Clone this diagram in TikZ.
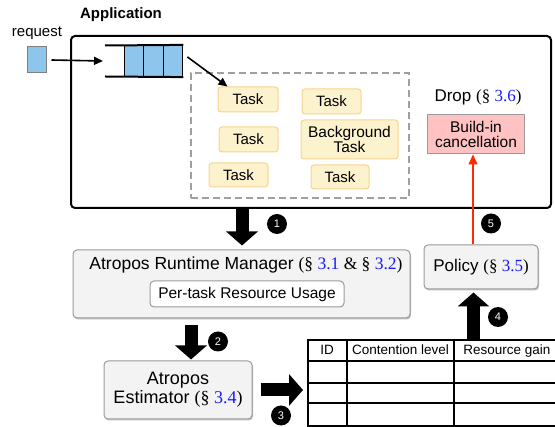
\documentclass[tikz,border=0pt]{standalone}
\usepackage{fontspec}
\setmainfont{Liberation Sans}
\newfontfamily\serif{Liberation Serif}
\usetikzlibrary{arrows.meta,shadows,calc}
\definecolor{qblue}{HTML}{8EC5EC}
\definecolor{taskfill}{HTML}{FDF2CE}
\definecolor{taskdraw}{HTML}{F6D48E}
\definecolor{secblue}{HTML}{1A1AFF}
\definecolor{pinkfill}{HTML}{FFC2C2}
\definecolor{boxfill}{HTML}{F3F3F3}
\definecolor{boxdraw}{HTML}{9A9A9A}
\definecolor{redarrow}{HTML}{FF2A00}
\newcommand{\fs}[1]{\fontsize{#1}{#1}\selectfont}
\newcommand{\sect}[1]{{\serif(\S\ \textcolor{secblue}{#1})}}
\begin{document}
\begin{tikzpicture}[x=1pt,y=-1pt,
  taskbox/.style={draw=taskdraw, fill=taskfill, line width=1pt, rounded corners=3pt, inner sep=0pt, font=\fs{15}, align=center},
  graybox/.style={draw=boxdraw, fill=boxfill, line width=1pt, rounded corners=4pt, inner sep=0pt, align=center,
     drop shadow={shadow xshift=1pt, shadow yshift=-1.5pt, opacity=0.25, fill=black}},
  qcell/.style={draw=black, fill=qblue, line width=1.2pt, minimum width=19.5pt, minimum height=31pt, inner sep=0pt},
  blockarrow/.style={line width=13pt, -{Triangle[length=14pt,width=31pt]}},
  numcirc/.style={circle, fill=black, text=white, minimum size=20pt, inner sep=0pt, font=\fs{11}},
  thinarrow/.style={line width=1.6pt, -{Triangle[length=9pt,width=8pt]}},
  tline/.style={line width=2pt},
  hdr/.style={font=\fs{13.5}, anchor=base}]
\useasboundingbox (0,0) rectangle (555,427);

% Application frame
\node[draw, line width=2pt, rounded corners=4pt, minimum width=480pt, minimum height=172pt, anchor=north west, inner sep=0pt] (app) at (70,35) {};
\node[font=\bfseries\fs{15}] (apptitle) at (121,15) {Application};

% request
\node[font=\fs{15}] (reqlabel) at (37,33) {request};
\node[draw=gray, fill=qblue, line width=1pt, minimum width=19pt, minimum height=26pt, inner sep=0pt] (req) at (36.5,60) {};

% queue
\node[qcell] (q1) at (134,61) {};
\node[qcell] (q2) at (153.5,61) {};
\node[qcell] (q3) at (173,61) {};
\coordinate (qin) at (103,61);
\coordinate (qtop) at (105,45.5);
\coordinate (qbot) at (105,76.5);
\draw[line width=2pt] (qtop) -- (q3.north east);
\draw[line width=2pt] (qbot) -- (q3.south east);
\draw[thinarrow] ([shift={(5,0)}]req.east) -- (qin);

% dashed task area
\node[draw=gray!75, dash pattern=on 7pt off 4pt, line width=1.8pt, minimum width=218pt, minimum height=125pt, anchor=north west, inner sep=0pt] (pool) at (190,72) {};

% tasks
\node[taskbox, minimum width=60pt, minimum height=25pt] (t1) at (248,99.5) {Task};
\node[taskbox, minimum width=59pt, minimum height=25pt] (t2) at (248.5,139.5) {Task};
\node[taskbox, minimum width=59pt, minimum height=24pt] (t3) at (238.5,175) {Task};
\node[taskbox, minimum width=59pt, minimum height=25pt] (t4) at (331.5,101.5) {Task};
\node[taskbox, minimum width=97pt, minimum height=39pt, font=\fs{15.5}] (bg) at (349.5,139.5) {Background\\Task};
\node[taskbox, minimum width=58pt, minimum height=24pt] (t5) at (340,177) {Task};

\draw[thinarrow] ([shift={(4,12)}]q3.north east) -- ([shift={(10,0)}]t1.north west);

% drop
\node[font=\fs{17}] (drop) at (478,97) {Drop \sect{3.6}};
\node[draw=boxdraw, fill=pinkfill, line width=1pt, minimum width=97pt, minimum height=39pt, inner sep=0pt, align=center, font=\fs{15.5}] (cancel) at (476,134.5) {Build-in\\cancellation};

% Runtime manager
\node[graybox, minimum width=337pt, minimum height=68pt] (mgr) at (241.5,284) {};
\node[font=\fs{17.5}] (mgrtitle) at (246,265) {Atropos Runtime Manager {\serif(\S\ \textcolor{secblue}{3.1} \& \S\ \textcolor{secblue}{3.2})}};
\node[draw=boxdraw, fill=white, line width=1pt, rounded corners=4pt, minimum width=194pt, minimum height=26pt, inner sep=0pt, font=\fs{15.5}] (usage) at (247,294) {Per-task Resource Usage};

% Estimator
\node[graybox, minimum width=148pt, minimum height=58pt, font=\fs{18}] (est) at (178,390) {Atropos\\[1pt]Estimator \sect{3.4}};

% Policy
\node[graybox, minimum width=114pt, minimum height=44pt, font=\fs{17}] (pol) at (481,267) {Policy \sect{3.5}};

% Table
\node[draw, tline, minimum width=252pt, minimum height=86pt, anchor=north west, inner sep=0pt] (tbl) at (307,339) {};
\draw[tline] (tbl.north west) ++(0,22) -- ++(252,0);
\draw[tline] (tbl.north west) ++(0,44) -- ++(252,0);
\draw[tline] (tbl.north west) ++(0,64) -- ++(252,0);
\draw[tline] (tbl.north west) ++(40,0) -- ++(0,86);
\draw[tline] (tbl.north west) ++(147,0) -- ++(0,86);
\node[hdr] (hid) at (327,355) {ID};
\node[hdr] (hcl) at (400.5,355) {Contention level};
\node[hdr] (hrg) at (507,355) {Resource gain};

% column coordinates
\coordinate (x1) at (242,0);
\coordinate (x2) at (191,0);
\coordinate (x4) at (473.5,0);

% block arrows
\draw[blockarrow] (x1 |- app.south) -- ([shift={(0,-4)}]x1 |- mgr.north);
\draw[blockarrow] ([shift={(0,7)}]x2 |- mgr.south) -- ([shift={(0,-1)}]x2 |- est.north);
\draw[blockarrow] ([shift={(8,0)}]est.east) -- ([shift={(-4,0)}]tbl.west |- est.east);
\draw[blockarrow] (x4 |- tbl.north) -- ([shift={(0,3)}]x4 |- pol.south);

% red arrow
\draw[redarrow, line width=1.4pt, -{Triangle[length=10pt,width=9pt]}] ([shift={(-3,0)}]cancel.south |- pol.north) -- ([shift={(-3,0)}]cancel.south);

% numbers
\node[numcirc] (c1) at (277,224) {1};
\node[numcirc] (c2) at (218,341.5) {2};
\node[numcirc] (c3) at (281,415.5) {3};
\node[numcirc] (c4) at (498,317) {4};
\node[numcirc] (c5) at (491,223.5) {5};
\end{tikzpicture}
\end{document}
